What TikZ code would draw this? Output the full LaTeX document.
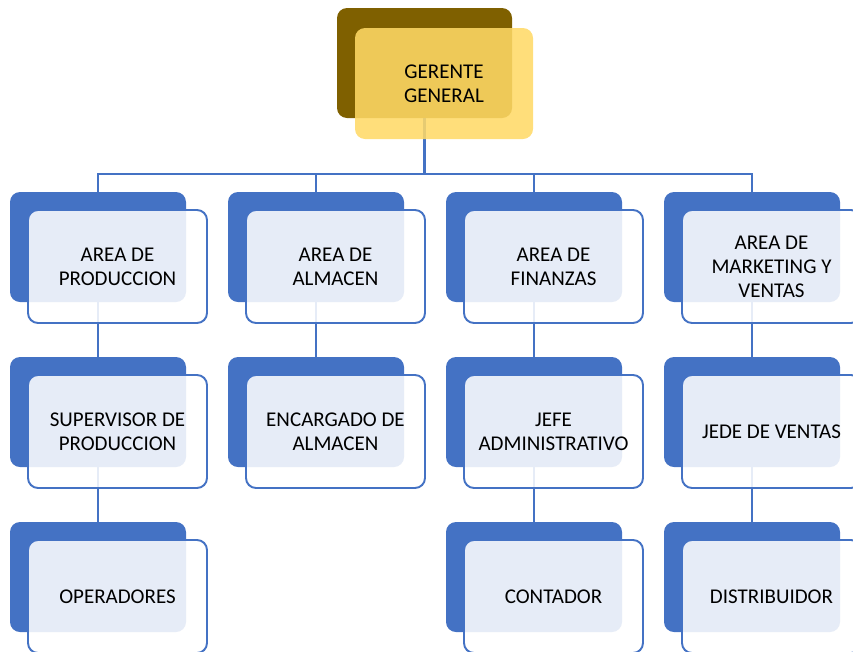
\documentclass[tikz,border=0pt]{standalone}
\usepackage{fontspec}
\setmainfont{Carlito}
\definecolor{blueA}{HTML}{4472C4}
\definecolor{brownA}{HTML}{7F6000}
\definecolor{yellowA}{HTML}{FFD966}
\begin{document}
\begin{tikzpicture}[x=1pt,y=-1pt,
  back/.style={rectangle, rounded corners=10pt, fill=blueA, minimum width=176pt, minimum height=110pt, inner sep=0pt},
  front/.style={rectangle, rounded corners=10pt, draw=blueA, line width=1.9pt, fill=white, fill opacity=0.87, text opacity=1, minimum width=179pt, minimum height=113pt, inner sep=2pt, align=center, font=\fontsize{21}{24}\selectfont, text=black},
  link/.style={draw=blueA, line width=2.6pt}]
\useasboundingbox (0,0) rectangle (853,651);
\clip (0,0) rectangle (853,651);
% top
\node[rectangle, rounded corners=10pt, fill=brownA, minimum width=175pt, minimum height=110pt, inner sep=0pt] (boss) at (424.5,63) {};
% back boxes
\node[back] (a1) at (98,247) {};
\node[back] (a2) at (316,247) {};
\node[back] (a3) at (534,247) {};
\node[back] (a4) at (752,247) {};
\node[back] (b1) at (98,412) {};
\node[back] (b2) at (316,412) {};
\node[back] (b3) at (534,412) {};
\node[back] (b4) at (752,412) {};
\node[back] (c1) at (98,577) {};
\node[back] (c3) at (534,577) {};
\node[back] (c4) at (752,577) {};
% connectors
\coordinate (bus) at (424.5,174);
\draw[link] (boss.south) -- (bus);
\draw[link] (a1.north) |- (bus);
\draw[link] (a2.north) |- (bus);
\draw[link] (a3.north) |- (bus);
\draw[link] (a4.north) |- (bus);
\draw[link] (a1.south) -- (b1.north);
\draw[link] (b1.south) -- (c1.north);
\draw[link] (a2.south) -- (b2.north);
\draw[link] (a3.south) -- (b3.north);
\draw[link] (b3.south) -- (c3.north);
\draw[link] (a4.south) -- (b4.north);
\draw[link] (b4.south) -- (c4.north);
% front boxes
\node[rectangle, rounded corners=10pt, fill=yellowA, fill opacity=0.87, text opacity=1, minimum width=178pt, minimum height=111pt, inner sep=2pt, align=center, font=\fontsize{21}{24}\selectfont, text=black] (gg) at (444,83.5) {GERENTE\\GENERAL};
\node[front] (fa1) at (117.5,266.5) {AREA DE\\PRODUCCION};
\node[front] (fa2) at (335.5,266.5) {AREA DE\\ALMACEN};
\node[front] (fa3) at (553.5,266.5) {AREA DE\\FINANZAS};
\node[front] (fa4) at (771.5,266.5) {AREA DE\\MARKETING Y\\VENTAS};
\node[front] (fb1) at (117.5,431.5) {SUPERVISOR DE\\PRODUCCION};
\node[front] (fb2) at (335.5,431.5) {ENCARGADO DE\\ALMACEN};
\node[front] (fb3) at (553.5,431.5) {JEFE\\ADMINISTRATIVO};
\node[front] (fb4) at (771.5,431.5) {JEDE DE VENTAS};
\node[front] (fc1) at (117.5,596.5) {OPERADORES};
\node[front] (fc3) at (553.5,596.5) {CONTADOR};
\node[front] (fc4) at (771.5,596.5) {DISTRIBUIDOR};
\end{tikzpicture}
\end{document}
